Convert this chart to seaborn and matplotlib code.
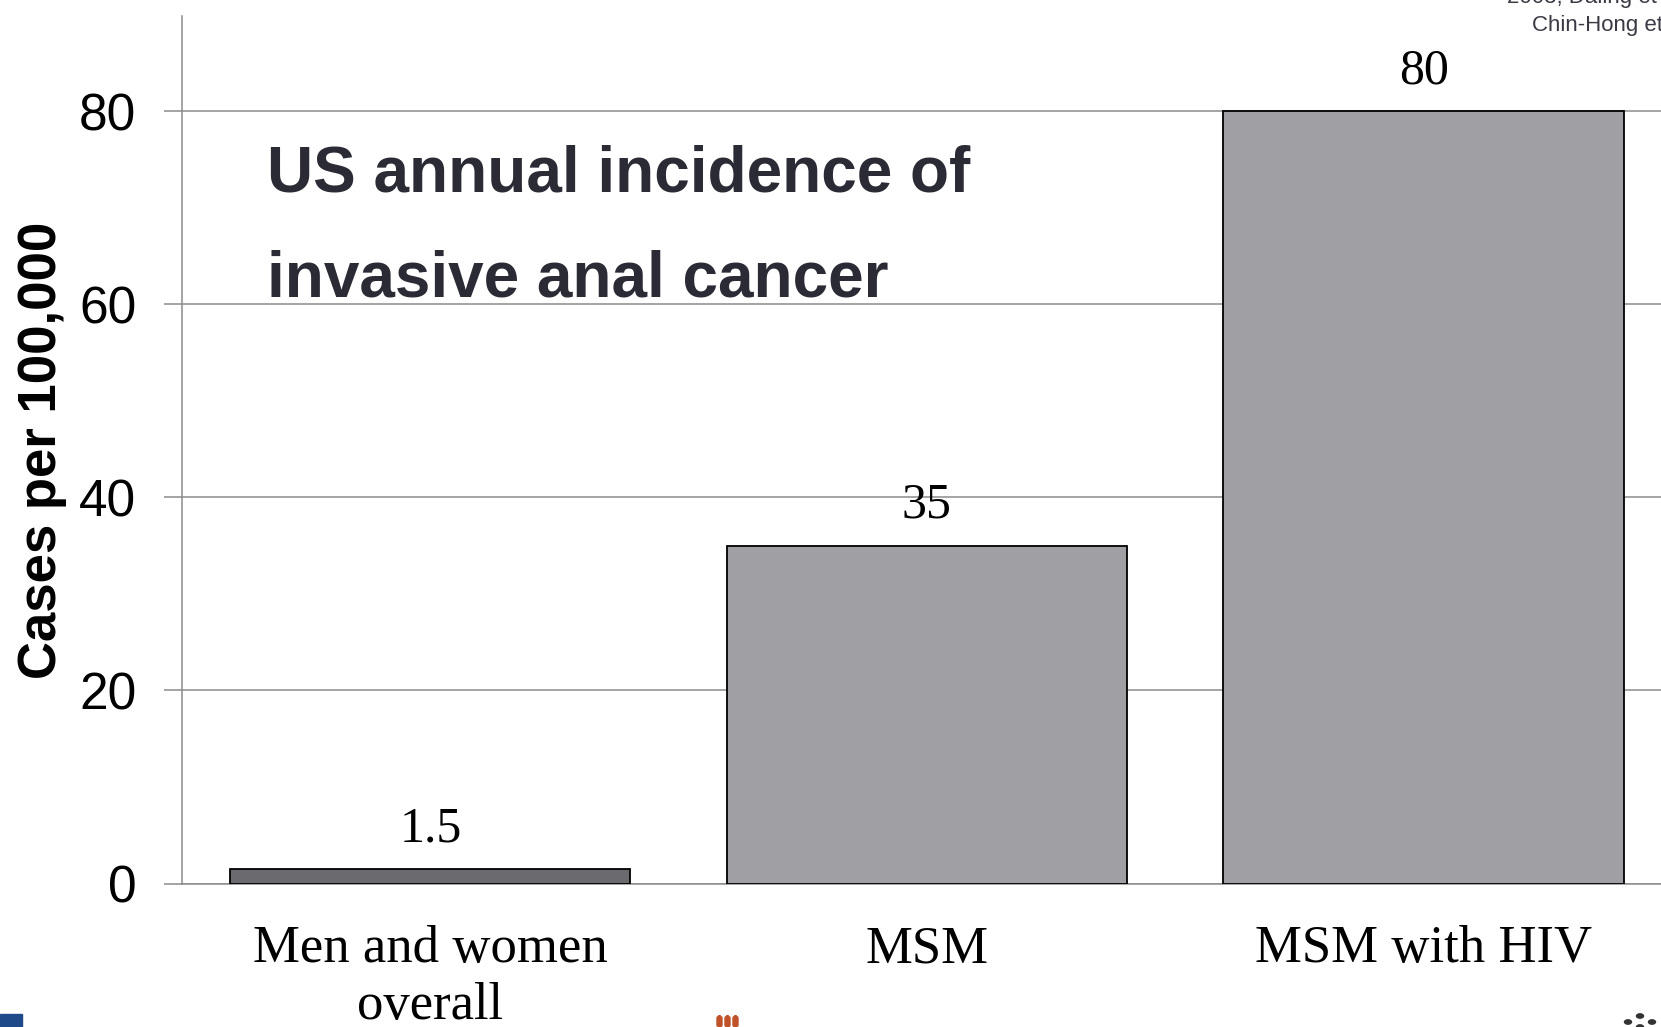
import matplotlib.pyplot as plt
import matplotlib.patches as mpatches
import pandas as pd
import seaborn as sns

# chart values
groups = ["Men and women\noverall", "MSM", "MSM with HIV"]
cases = [1.5, 35, 80]
bar_colors = ["#6b6a6f", "#a09fa4", "#a09fa4"]
yticks = [0, 20, 40, 60, 80]

df = pd.DataFrame({"group": groups, "cases": cases})

sns.set_style("white")
plt.rcParams["font.family"] = ["Liberation Sans", "DejaVu Sans"]

fig = plt.figure(figsize=(16.61, 10.27), dpi=100)
ax = fig.add_axes([0.1096, 0.1397, 0.8904, 0.8443])

sns.barplot(
    data=df, x="group", y="cases", hue="group", palette=bar_colors,
    legend=False, width=0.806, edgecolor="black", linewidth=1.3,
    saturation=1, ax=ax, zorder=3,
)

# value labels above bars
for container in ax.containers:
    ax.bar_label(container, fmt="%g", padding=12, fontsize=36,
                 family="Liberation Serif", color="black")

ax.set_ylim(0, 89.8)
ax.set_xlim(-0.5, 2.478)
ax.set_yticks(yticks)
ax.yaxis.grid(True, color="#8c8c8c", linewidth=1.1, zorder=0)
ax.set_axisbelow(True)

for side in ["top", "right"]:
    ax.spines[side].set_visible(False)
ax.spines["left"].set_color("#8c8c8c")
ax.spines["left"].set_linewidth(1.1)
ax.spines["bottom"].set_color("#8c8c8c")
ax.spines["bottom"].set_linewidth(1.1)

ax.tick_params(axis="y", length=13, width=1.1, color="#8c8c8c",
               labelsize=37, pad=20, left=True, labelcolor="black")
ax.tick_params(axis="x", length=0, pad=30, labelcolor="black")
for lbl in ax.get_xticklabels():
    lbl.set_fontfamily("Liberation Serif")
    lbl.set_fontsize(38)
    lbl.set_linespacing(1.25)

ax.set_xlabel("")
ax.set_ylabel("Cases per 100,000", fontsize=38, fontweight="bold",
              color="black")
ax.yaxis.set_label_coords(-0.078, 0.5)

# inset title
fig.text(0.1607, 0.814, "US annual incidence of", fontsize=46,
         fontweight="bold", color="#2b2b36", va="baseline")
fig.text(0.1607, 0.711, "invasive anal cancer", fontsize=46,
         fontweight="bold", color="#2b2b36", va="baseline")

# clipped citation in the corner
fig.text(0.907, 0.997, "2003; Daling et al.,", fontsize=16, color="#3a3a44",
         va="baseline")
fig.text(0.9225, 0.970, "Chin-Hong et al.", fontsize=16, color="#3a3a44",
         va="baseline")

# slide decorations along the bottom edge
fig.patches.append(mpatches.Rectangle((0, 0), 22 / 1661, 13 / 1027,
                                      transform=fig.transFigure,
                                      color="#1f4a8a"))
for i in range(3):
    fig.patches.append(mpatches.FancyBboxPatch(
        (717 / 1661 + i * 8 / 1661, 0), 5 / 1661, 11 / 1027,
        boxstyle="round,pad=0,rounding_size=0.002",
        transform=fig.transFigure, color="#c0522a"))
for cx, cy in [(1628, 1022), (1640, 1016), (1652, 1022), (1640, 1027)]:
    fig.patches.append(mpatches.Circle((cx / 1661, 1 - cy / 1027), 3.5 / 1661,
                                       transform=fig.transFigure,
                                       color="#333333"))

plt.savefig("out.png", dpi=100)
